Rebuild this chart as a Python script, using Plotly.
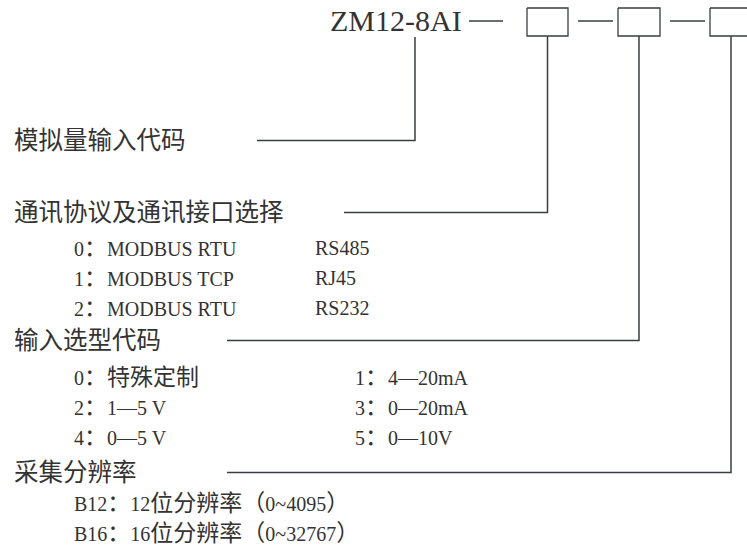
import plotly.graph_objects as go

# ---- content ----
model_code = "ZM12-8AI"
section_titles = ["模拟量输入代码", "通讯协议及通讯接口选择", "输入选型代码", "采集分辨率"]
comm_codes = ["0", "1", "2"]
comm_protocols = ["MODBUS RTU", "MODBUS TCP", "MODBUS RTU"]
comm_ports = ["RS485", "RJ45", "RS232"]
input_codes_left = ["0", "2", "4"]
input_types_left = ["特殊定制", "1—5 V", "0—5 V"]
input_codes_right = ["1", "3", "5"]
input_types_right = ["4—20mA", "0—20mA", "0—10V"]
res_codes = ["B12", "B16"]
res_texts = ["12位分辨率（0~4095）", "16位分辨率（0~32767）"]

# ---- layout (pixel coordinates on a 747x552 canvas) ----
W, H = 747, 552
title_rows = [138, 210, 338, 470]
title_line_start = [257, 344, 227, 227]
comm_rows = [248, 278, 308]
input_rows = [377, 407, 437]
res_rows = [503, 533]
indent_x = 72
col2_x = 313
col3_x = 353
header_y = 20
box_left = [527, 618, 710]
box_right = [568, 660, 752]
box_top, box_bottom = 8, 36
dash_segments = [(469, 503), (578, 613), (670, 705)]
model_tap_x = 415

LATIN = "Liberation Serif, 'Noto Sans CJK SC', sans-serif"
CJK = "'Noto Sans CJK SC', Liberation Serif, sans-serif"
TXT = "#333333"
LINE = "#3a3e42"
LATIN_SIZE = 20
CJK_SIZE = 23

fig = go.Figure()

def add_line(xs, ys, width=1.5):
    fig.add_trace(go.Scatter(x=xs, y=ys, mode="lines",
                             line=dict(color=LINE, width=width),
                             hoverinfo="skip", showlegend=False))

# dashes in header
for a, b in dash_segments:
    add_line([a, b], [header_y + 1, header_y + 1], 1.3)
# boxes
for l, r in zip(box_left, box_right):
    add_line([l, r, r, l, l], [box_top, box_top, box_bottom, box_bottom, box_top], 1.3)

# connectors
tap_xs = [model_tap_x] + [(l + r) / 2 for l, r in zip(box_left, box_right)]
tap_tops = [box_bottom + 1] + [box_bottom] * 3
for tx, ttop, ty, sx in zip(tap_xs, tap_tops, title_rows, title_line_start):
    yy = ty + 2.5
    add_line([tx, tx, sx], [ttop, yy, yy], 1.5)


def is_wide(ch):
    o = ord(ch)
    return (o >= 0x2E80 and o != 0x2014) or 0xFF00 <= o <= 0xFFEF


def mixed(s):
    """Wrap runs of full-width (CJK) characters in a larger span."""
    out, run = [], ""
    for ch in s:
        if is_wide(ch):
            run += ch
        else:
            if run:
                out.append(f"<span style='font-size:{CJK_SIZE}px'>{run}</span>")
                run = ""
            out.append(ch)
    if run:
        out.append(f"<span style='font-size:{CJK_SIZE}px'>{run}</span>")
    return "".join(out)


ann = []

def text(x, y, s, size, family=LATIN, color=TXT):
    ann.append(dict(x=x, y=y, xref="x", yref="y", text=s, showarrow=False,
                    xanchor="left", yanchor="middle",
                    font=dict(family=family, size=size, color=color)))

text(328, header_y, model_code, 30, LATIN)

for t, y in zip(section_titles, title_rows):
    text(12, y, t, 24.5, CJK)

for c, p, port, y in zip(comm_codes, comm_protocols, comm_ports, comm_rows):
    text(indent_x, y, mixed(c + "：" + p), LATIN_SIZE)
    text(col2_x, y, port, LATIN_SIZE)

for c, t, y in zip(input_codes_left, input_types_left, input_rows):
    text(indent_x, y, mixed(c + "：" + t), LATIN_SIZE)
for c, t, y in zip(input_codes_right, input_types_right, input_rows):
    text(col3_x, y, mixed(c + "：" + t), LATIN_SIZE)

for c, t, y in zip(res_codes, res_texts, res_rows):
    text(indent_x, y, mixed(c + "：" + t), LATIN_SIZE)

fig.update_layout(
    width=W, height=H,
    margin=dict(l=0, r=0, t=0, b=0),
    paper_bgcolor="white", plot_bgcolor="white",
    xaxis=dict(range=[0, W], visible=False, fixedrange=True),
    yaxis=dict(range=[H, 0], visible=False, fixedrange=True),
    annotations=ann,
    showlegend=False,
)

fig.write_html("out.html", config={"displayModeBar": False},
               post_script="document.body.style.margin='0';")
